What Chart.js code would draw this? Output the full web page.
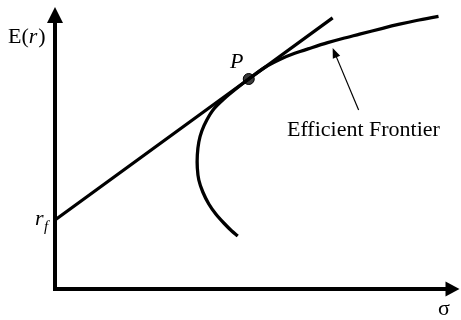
<!DOCTYPE html>
<html>
<head>
<meta charset="utf-8">
<script src="https://cdn.jsdelivr.net/npm/chart.js@4.4.1/dist/chart.umd.min.js"></script>
<style>
  html, body { margin: 0; padding: 0; background: #fff; }
  canvas { display: block; }
</style>
</head>
<body>
<canvas id="frontier-canvas" width="461" height="320"></canvas>
<script>
// efficient frontier (sigma, expected return)
var frontierSigma  = [4.575, 4.425, 4.225, 4.025, 3.85, 3.7, 3.6, 3.5625, 3.5625, 3.6, 3.675, 3.8, 3.975, 4.225, 4.525,
                      4.85, 5.25, 5.625, 6.0, 6.425, 6.825, 7.2, 7.625, 8.2, 8.625, 9.05, 9.6];
var frontierReturn = [1.325, 1.45, 1.65, 1.875, 2.125, 2.425, 2.725, 3.025, 3.35, 3.675, 3.95, 4.225, 4.5, 4.75, 5.0,
                      5.25, 5.5375, 5.7375, 5.8925, 6.0325, 6.1575, 6.2625, 6.37, 6.5175, 6.62, 6.7125, 6.8175];

// capital market line: r_f, tangency point P, end of the line
var cmlSigma  = [0, 4.85, 6.95];
var cmlReturn = [1.725, 5.25, 6.777];

var tangencySigma = 4.85;
var tangencyReturn = 5.25;

// annotation arrow pointing at the frontier: tail, tip
var arrowSigma  = [7.6, 6.95];
var arrowReturn = [4.475, 6.025];

var xAxisLabel = 'σ';
var frontierLabel = 'Efficient Frontier';
var pointLabel = 'P';

function toPoints(xs, ys) {
    return xs.map(function (x, i) { return { x: x, y: ys[i] }; });
}

var serif = '"Liberation Serif", "Times New Roman", serif';

var diagramPlugin = {
    id: 'diagram',
    afterDraw: function (chart) {
        var c = chart.ctx;
        var a = chart.chartArea;
        var xs = chart.scales.x, ys = chart.scales.y;
        var ox = xs.getPixelForValue(0), oy = ys.getPixelForValue(0);
        c.save();
        c.fillStyle = '#000';
        c.strokeStyle = '#000';

        // axes
        c.lineWidth = 4;
        c.beginPath();
        c.moveTo(ox, oy + 2);
        c.lineTo(ox, a.top + 12);
        c.moveTo(ox - 2, oy);
        c.lineTo(a.right - 6, oy);
        c.stroke();
        // arrow heads
        c.beginPath();
        c.moveTo(ox, a.top - 2);
        c.lineTo(ox - 8, a.top + 14);
        c.lineTo(ox + 8, a.top + 14);
        c.closePath();
        c.fill();
        c.beginPath();
        c.moveTo(a.right + 5, oy);
        c.lineTo(a.right - 9, oy - 7.5);
        c.lineTo(a.right - 9, oy + 7.5);
        c.closePath();
        c.fill();

        // annotation arrow
        var tx = xs.getPixelForValue(arrowSigma[0]), ty = ys.getPixelForValue(arrowReturn[0]);
        var hx = xs.getPixelForValue(arrowSigma[1]), hy = ys.getPixelForValue(arrowReturn[1]);
        var ang = Math.atan2(hy - ty, hx - tx);
        c.lineWidth = 1.2;
        c.beginPath();
        c.moveTo(tx, ty);
        c.lineTo(hx - 8 * Math.cos(ang), hy - 8 * Math.sin(ang));
        c.stroke();
        c.beginPath();
        c.moveTo(hx, hy);
        c.lineTo(hx - 10 * Math.cos(ang) + 4 * Math.sin(ang), hy - 10 * Math.sin(ang) - 4 * Math.cos(ang));
        c.lineTo(hx - 10 * Math.cos(ang) - 4 * Math.sin(ang), hy - 10 * Math.sin(ang) + 4 * Math.cos(ang));
        c.closePath();
        c.fill();

        // labels
        c.textBaseline = 'alphabetic';
        c.textAlign = 'left';
        c.font = '22px ' + serif;
        var ex = 8, ey = 43;
        c.fillText('E(', ex, ey);
        var w1 = c.measureText('E(').width;
        c.font = 'italic 22px ' + serif;
        c.fillText('r', ex + w1, ey);
        var w2 = c.measureText('r').width;
        c.font = '22px ' + serif;
        c.fillText(')', ex + w1 + w2 + 1, ey);

        c.font = '22px ' + serif;
        c.fillText(frontierLabel, 287, 136);

        c.textAlign = 'center';
        c.fillText(xAxisLabel, 444, 315);

        c.font = 'italic 22px ' + serif;
        var px = xs.getPixelForValue(tangencySigma), py = ys.getPixelForValue(tangencyReturn);
        c.fillText(pointLabel, px - 12, py - 11);

        var ry = ys.getPixelForValue(cmlReturn[0]);
        c.textAlign = 'left';
        c.fillText('r', ox - 20, ry + 5);
        c.font = 'italic 15px ' + serif;
        c.fillText('f', ox - 11, ry + 11);
        c.restore();
    }
};

var ctx = document.getElementById('frontier-canvas').getContext('2d');
var myChart = new Chart(ctx, {
    type: 'scatter',
    data: {
        datasets: [{
            label: 'Efficient Frontier',
            data: toPoints(frontierSigma, frontierReturn),
            showLine: true,
            borderColor: '#000',
            borderWidth: 3.3,
            pointRadius: 0,
            tension: 0.3,
            clip: false
        }, {
            label: 'CML',
            data: toPoints(cmlSigma, cmlReturn),
            showLine: true,
            borderColor: '#000',
            borderWidth: 3.3,
            pointRadius: 0,
            clip: false
        }, {
            label: 'P',
            data: [{ x: tangencySigma, y: tangencyReturn }],
            pointRadius: 5.5,
            backgroundColor: '#3a3a3a',
            borderColor: '#000',
            borderWidth: 1,
            clip: false
        }]
    },
    options: {
        responsive: false,
        animation: false,
        layout: { padding: { left: 55, right: 6, top: 9, bottom: 31 } },
        plugins: { legend: { display: false }, tooltip: { enabled: false } },
        scales: {
            x: { type: 'linear', min: 0, max: 10, display: false },
            y: { type: 'linear', min: 0, max: 7, display: false }
        }
    },
    plugins: [diagramPlugin]
});
</script>
</body>
</html>
